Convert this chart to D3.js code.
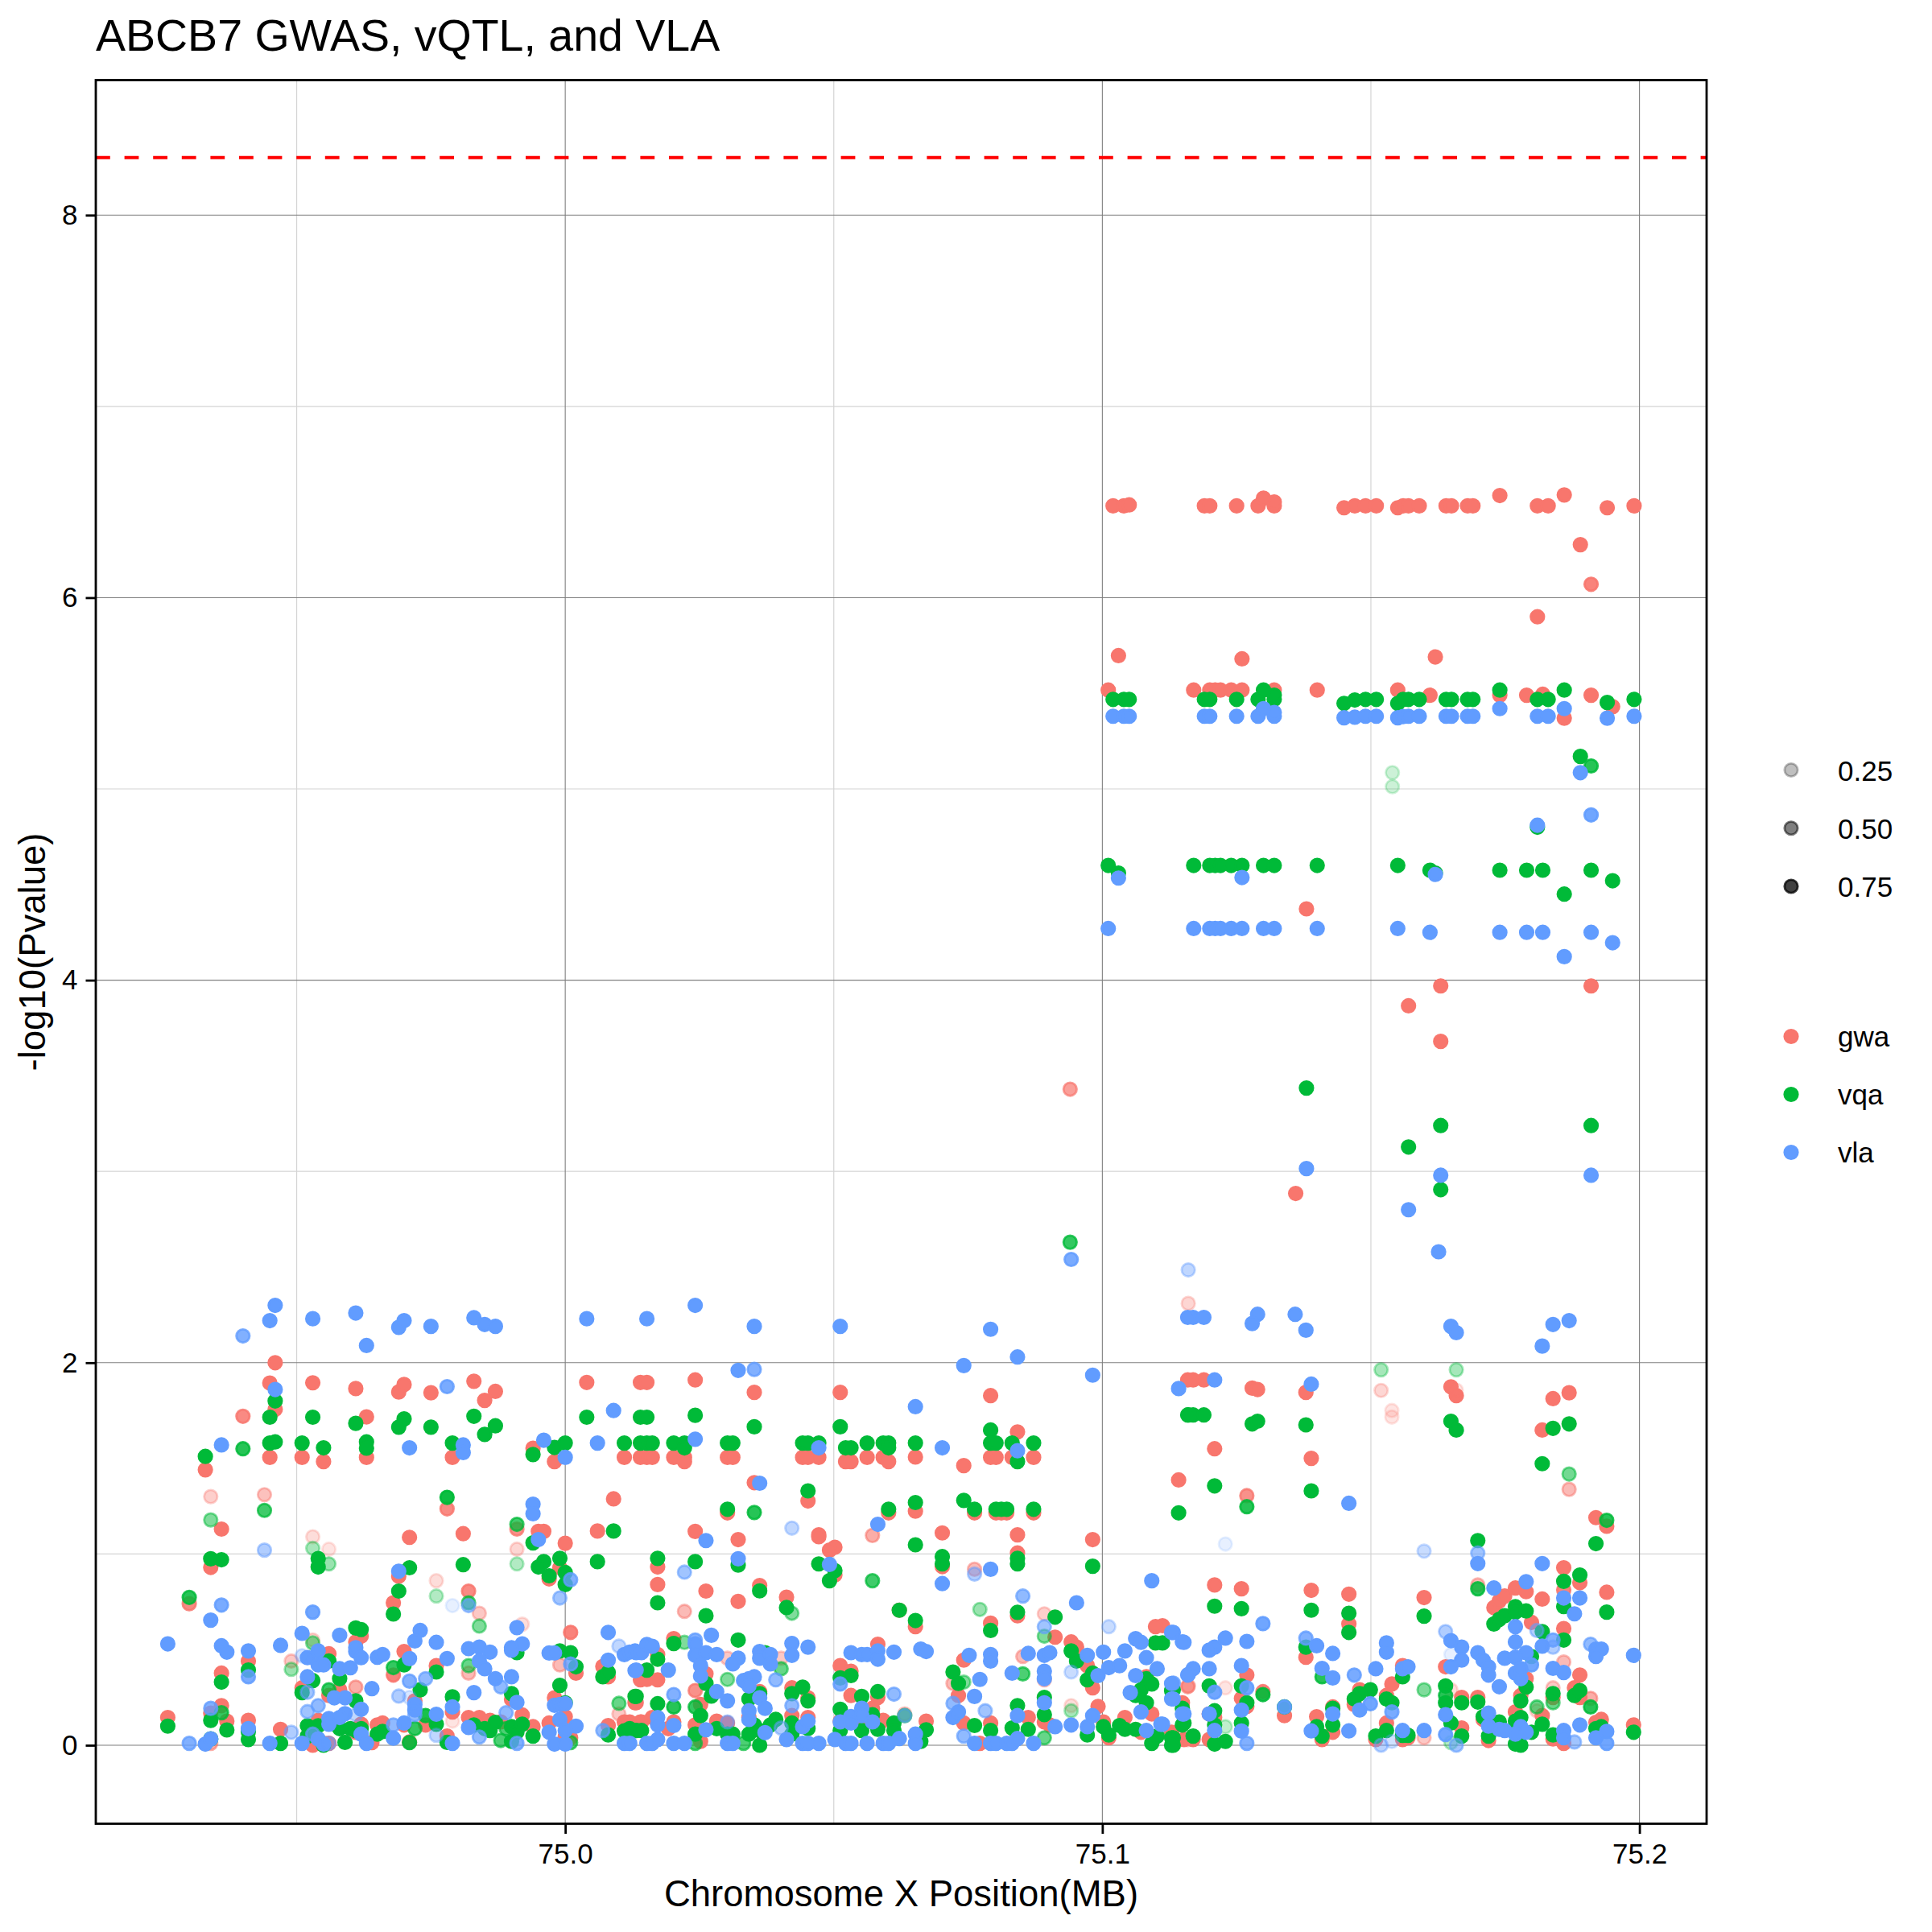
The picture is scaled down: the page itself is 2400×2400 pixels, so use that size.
<!DOCTYPE html>
<html><head><meta charset="utf-8">
<script src="https://cdn.jsdelivr.net/npm/d3@7/dist/d3.min.js"></script>
<style>html,body{margin:0;padding:0;background:#fff}svg{display:block}text{font-family:"Liberation Sans",Arial,sans-serif;fill:#000}</style>
</head><body><div id="chart"></div>
<script>
const titleText="ABCB7 GWAS, vQTL, and VLA";
const xLabel="Chromosome X Position(MB)";
const yLabel="-log10(Pvalue)";
const xMajor=[75.0,75.1,75.2], xMinor=[74.95,75.05,75.15];
const yMajor=[0,2,4,6,8], yMinor=[1,3,5,7];
const threshold=8.301;
const alphaLegend=[0.25,0.5,0.75];
const seriesNames=["gwa","vqa","vla"];
const seriesColors=["#F8766D","#00BA38","#619CFF"];

// [position in Mb, -log10 P, alpha (1 when omitted)]
const gwaPoints=[
[74.933,1.44],[74.940,1.72,.85],[74.945,1.894],[74.946,2.0],[74.946,1.756],[74.945,1.505],[74.951,1.505],[74.955,1.483],[74.953,1.895],[74.961,1.865],[74.963,1.717],[74.963,1.505],[74.969,1.847],[74.970,1.886],[74.975,1.843],[74.983,1.903],[74.985,1.803],[74.987,1.85],[74.979,1.505],[74.994,1.553],[74.998,1.483],[75.004,1.897],[75.011,1.505],[75.014,1.897],[75.014,1.505],
[74.934,1.30,.35],[74.944,1.31,.45],[74.978,1.236,.85],[74.936,1.13],[74.991,1.13,.8],[74.995,1.118],[74.996,1.118],[75.009,1.288],[75.006,1.12],[75.000,1.056],[74.934,.93],[74.953,1.09,.25],[74.956,1.025,.2],[74.971,1.087],[74.981,1.106],[74.991,1.025,.3],[74.999,.928],[74.997,.87],[74.969,.884],[74.976,.86,.25],[74.982,.806,.85],[74.930,.74,.85],[74.968,.745],[74.984,.69,.4],[74.992,.633,.25],[75.001,.59,.9],[74.953,.55,.3],[74.962,.57],[74.961,.54],[74.956,.478],[74.970,.49],[74.949,.44,.4],[74.941,.44],[74.936,.377],[74.982,.377,.5],[74.999,.42,.5],[75.002,.377],[74.968,.367,.9],[74.976,.416],[75.007,.412],[75.008,.358],[75.014,.342],[74.951,.30],[74.956,.26],[74.958,.29],[74.961,.304,.6],[74.972,.232],[74.990,.24],[74.979,.174],[74.998,.248],[75.000,.149],[75.013,.222],[75.010,.164,.4],[74.926,.145],[74.936,.207],[74.934,.168],[74.937,.126],[74.941,.13],[74.947,.083],[74.954,.13],[74.962,.11],[74.965,.106],[74.966,.116],[74.970,.106],[74.974,.106],[74.982,.145],[74.984,.145],[74.986,.13],[74.988,.122],[74.992,.158],[74.994,.097],[74.997,.116],[75.000,.044],[75.001,.039],[75.008,.103],[75.011,.122],[75.014,.122],[74.934,.01,.6],[74.953,0],[74.955,.01],[74.956,.01],[74.961,.068],[74.964,.014],[74.971,.017],[74.978,.048],[74.979,.126,.2],
[75.0152,1.897],[75.0242,1.91],[75.0352,1.845],[75.0512,1.845],[75.0792,1.828],[75.0842,1.638],[75.1142,1.387],[75.116,2.31,.3],[75.0152,1.505],[75.0162,1.505],[75.0202,1.505],[75.0222,1.505],[75.0222,1.483],[75.0302,1.505],[75.0312,1.505],[75.0352,1.373],[75.0442,1.505],[75.0452,1.505],[75.0472,1.505],[75.0522,1.483],[75.0532,1.483],[75.0562,1.505],[75.0592,1.505],[75.0602,1.483],[75.0652,1.507],[75.0742,1.462],[75.0792,1.505],[75.0802,1.505],[75.0832,1.505],[75.0872,1.505],[75.0452,1.277],[75.0302,1.215],[75.0602,1.215],[75.0652,1.224],[75.0762,1.215],[75.0802,1.215],[75.0812,1.215],[75.0822,1.215],[75.0872,1.215],[75.0242,1.118],[75.0322,1.075],[75.0472,1.10],[75.0472,1.09],[75.0502,1.035],[75.0492,1.02],[75.0572,1.097,.6],[75.0702,1.11],[75.0842,1.10],[75.0982,1.075],[75.0172,.932],[75.0172,.84],[75.0262,.806],[75.0322,.752],[75.0222,.70,.5],[75.0362,.835],[75.0412,.774],[75.0502,.89],[75.0702,.934],[75.0762,.92,.5],[75.0842,1.005],[75.0792,.638],[75.0892,.687,.35],[75.0912,.565],[75.0842,.677],[75.0652,.62],[75.0622,.706],[75.0582,.528],[75.0202,.557],[75.0172,.474],[75.0152,.344],[75.0132,.222],[75.0172,.342],[75.0262,.373],[75.0242,.286,.8],[75.0252,.213],[75.0302,.455,.4],[75.0362,.28],[75.0402,.455,.4],[75.0422,.3],[75.0452,.248],[75.0512,.416],[75.0532,.26],[75.0532,.387],[75.0572,.193],[75.0582,.25],[75.0632,.164,.4],[75.0672,.126],[75.0592,.13],[75.0732,.26],[75.0742,.445],[75.0722,.323,.5],[75.0852,.464,.5],[75.0892,.342,.5],[75.0942,.54],[75.0952,.513],[75.0972,.416],[75.0982,.30],[75.0992,.203],[75.0942,.207,.25],[75.1002,.122],[75.1012,.039],[75.1112,.625],[75.1042,.145],[75.1072,.068],[75.1082,.358],[75.1092,.164],[75.116,.31,.5],[75.0742,.116],[75.0792,.116],[75.0772,.01],[75.0862,.145],[75.0892,.122],[75.0902,.106],[75.1152,.03],[75.0120,.122],[75.0142,.122],[75.0162,.145],[75.0192,.087],[75.0202,.122],[75.0242,.106],[75.0252,.02],[75.0282,.126],[75.0302,.116],[75.0342,.145],[75.0352,.087],[75.0422,.155],[75.0452,.145],[75.0512,.126],[75.0552,.116],
[75.1169,1.91],[75.1189,1.91],[75.1159,1.91],[75.1279,1.867],[75.1289,1.86],[75.1379,1.845],[75.1389,1.5],[75.1209,1.55],[75.1269,1.305,.8],[75.1519,1.855,.3],[75.1539,1.75,.2],[75.1539,1.716,.2],[75.1649,1.874],[75.1659,1.828],[75.1659,1.857,.2],[75.1819,1.648],[75.1839,1.812],[75.1869,1.843],[75.1869,1.338,.5],[75.1919,1.19],[75.1939,1.145],[75.1699,.838,.5],[75.1209,.838],[75.1259,.818],[75.1389,.81],[75.1459,.79],[75.1459,.634],[75.1599,.772],[75.1729,.72],[75.1739,.754],[75.1749,.78],[75.1769,.822],[75.1789,.803],[75.1799,.642],[75.1819,.764],[75.1859,.928],[75.1859,.812,.9],[75.1889,.85],[75.1939,.8],[75.1859,.61],[75.1099,.62],[75.1379,.46],[75.1539,.32],[75.1559,.416],[75.1479,.29],[75.1469,.213],[75.1529,.26],[75.1529,.116],[75.1639,.41],[75.1649,.29,.25],[75.1669,.25],[75.1699,.25],[75.1709,.135],[75.1789,.348],[75.1779,.26],[75.1769,.174],[75.1809,.18,.3],[75.1819,.155],[75.1859,.435,.5],[75.1839,.3,.4],[75.1839,.25],[75.1879,.3],[75.1889,.25],[75.1889,.367],[75.1909,.245,.6],[75.1919,.12],[75.1929,.135],[75.1989,.106],[75.1159,.306,.6],[75.1149,.222],[75.1199,.164],[75.1209,.145],[75.1229,.3,.2],[75.1269,.367],[75.1259,.245],[75.1269,.203],[75.1299,.28,.9],[75.1339,.155],[75.1399,.149],[75.1429,.2],[75.1429,.068],[75.1409,.03],[75.1509,.03],[75.1559,.03],[75.1569,.039],[75.1599,.039,.4],[75.1669,.09],[75.1719,.025],[75.1839,.033],[75.1859,.01],[75.1129,.068],[75.1159,.03,.5],[75.1169,.03],[75.1199,.03],
[75.102,6.48],[75.104,6.48],[75.105,6.485],[75.119,6.48],[75.120,6.48],[75.125,6.48],[75.129,6.48],[75.132,6.48],[75.132,6.5],[75.145,6.47],[75.147,6.48],[75.149,6.48],[75.151,6.48],[75.155,6.47],[75.156,6.48],[75.157,6.48],[75.159,6.48],[75.164,6.48],[75.165,6.48],[75.168,6.48],[75.169,6.48],[75.181,6.48],[75.183,6.48],[75.194,6.47],[75.199,6.48],[75.130,6.52],[75.174,6.534],[75.186,6.537],[75.189,6.277],[75.191,6.07,.9],[75.181,5.90],[75.103,5.697],[75.126,5.68],[75.162,5.69],
[75.1011,5.517],[75.117,5.517],[75.120,5.517],[75.121,5.517],[75.122,5.517],[75.124,5.517],[75.126,5.517],[75.132,5.517],[75.140,5.517],[75.155,5.517],[75.161,5.49],[75.174,5.49],[75.179,5.49],[75.182,5.495],[75.191,5.49],[75.195,5.43],[75.186,5.37],[75.138,4.373],[75.157,3.866],[75.163,3.97],[75.191,3.97],[75.163,3.68],[75.136,2.885],[75.094,3.43,.7]
];
const vqaPoints=[
[74.933,1.51],[74.940,1.55,.85],[74.945,1.58],[74.946,1.586],[74.945,1.715],[74.946,1.80],[74.953,1.715],[74.951,1.58],[74.955,1.555],[74.961,1.683],[74.963,1.586],[74.963,1.553],[74.970,1.706],[74.969,1.663],[74.975,1.663],[74.983,1.72],[74.985,1.625],[74.987,1.67],[74.979,1.58],[74.994,1.52],[74.998,1.557],[75.000,1.58],[75.004,1.715],[75.011,1.58],[75.014,1.58],[75.014,1.715],
[74.934,1.178,.5],[74.944,1.228,.75],[74.978,1.296,.95],[74.991,1.155,.75],[74.994,1.058],[74.996,.96],[74.995,.932],[74.999,.977],[75.000,.903],[75.000,.84],[74.997,.886],[75.006,.96],[75.009,1.12],[74.934,.975],[74.936,.97],[74.953,1.03,.35],[74.954,.976],[74.954,.932],[74.956,.948,.4],[74.971,.928],[74.981,.944],[74.991,.948,.3],[74.969,.806],[74.968,.686],[74.976,.78,.3],[74.930,.773,.85],[74.982,.745,.7],[74.984,.623,.5],[74.961,.613],[74.962,.605],[74.953,.535,.5],[74.956,.44],[74.949,.397,.4],[74.941,.393],[74.936,.33],[74.953,.338],[74.956,.29,.8],[74.958,.348],[74.951,.275],[74.961,.232],[74.968,.406,.8],[74.970,.42],[74.973,.29],[74.976,.383],[74.982,.416,.6],[74.990,.27],[74.979,.253],[74.999,.313],[75.000,.222],[75.001,.484],[75.002,.41],[74.991,.484],[74.999,.493],[75.007,.358],[75.008,.381],[75.013,.255],[75.010,.219,.6],[74.926,.10],[74.934,.13],[74.936,.17,.8],[74.937,.08],[74.941,.03],[74.941,.072],[74.934,.033],[74.947,.01],[74.952,.102],[74.953,.083],[74.954,.102],[74.952,.048],[74.955,0],[74.958,.087],[74.959,.015],[74.960,.087],[74.961,.077],[74.962,.087],[74.965,.058],[74.966,.072],[74.971,.014,.9],[74.972,.087,.8],[74.974,.155,.9],[74.976,.11],[74.978,.015],[74.983,.106],[74.985,.087],[74.986,.077],[74.987,.12],[74.988,.025,.7],[74.989,.087,.7],[74.990,.097],[74.990,.02],[74.991,.068],[74.992,.11],[74.994,.048],[75.001,.014,.7],[75.008,.054],[75.011,.075],[75.013,.077],
[75.0152,1.715],[75.0152,1.58],[75.0162,1.58],[75.0202,1.58],[75.0222,1.58],[75.0222,1.555],[75.0242,1.725],[75.0352,1.665],[75.0302,1.58],[75.0312,1.58],[75.0452,1.33],[75.0302,1.234],[75.0352,1.217,.85],[75.0172,.977],[75.0242,.96],[75.0172,.745],[75.0262,.677],[75.0322,.942],[75.0362,.807],[75.0412,.72],[75.0422,.69,.5],[75.0472,.948],[75.0502,.913],[75.0492,.86],[75.0512,1.665],[75.0442,1.58],[75.0452,1.58],[75.0472,1.58],[75.0522,1.555],[75.0532,1.555],[75.0562,1.58],[75.0592,1.58],[75.0602,1.58],[75.0602,1.555],[75.0652,1.58],[75.0602,1.234],[75.0652,1.269],[75.0652,1.048],[75.0702,.986],[75.0702,.948],[75.0572,.86,.75],[75.0622,.706],[75.0652,.652],[75.0742,1.28],[75.0762,1.234],[75.0802,1.234],[75.0812,1.234],[75.0822,1.234],[75.0872,1.234],[75.0792,1.648],[75.0792,1.58],[75.0802,1.58],[75.0832,1.58],[75.0842,1.483],[75.0872,1.58],[75.0842,.977],[75.0842,.948],[75.0982,.936],[75.1142,1.215],[75.116,1.727],[75.0772,.71,.4],[75.0842,.695],[75.0912,.67],[75.0792,.60],[75.0892,.57,.5],[75.0202,.532],[75.0222,.538,.5],[75.0172,.45],[75.0152,.393],[75.0132,.255],[75.0172,.217],[75.0202,.2,.85],[75.0242,.2,.8],[75.0252,.155],[75.0262,.323],[75.0322,.55],[75.0372,.484],[75.0302,.344,.5],[75.0402,.4,.6],[75.0272,.257],[75.0342,.242],[75.0362,.27],[75.0422,.27],[75.0422,.116],[75.0442,.304],[75.0452,.232],[75.0512,.352],[75.0532,.364],[75.0552,.255],[75.0582,.28],[75.0512,.188],[75.0612,.116],[75.0612,.077],[75.0572,.16],[75.0552,.077],[75.0582,.083],[75.0672,.081],[75.0632,.155,.7],[75.0722,.383],[75.0732,.323],[75.0742,.33,.5],[75.0852,.373,.7],[75.0942,.493],[75.0952,.44],[75.0982,.377],[75.0972,.342],[75.0892,.25],[75.0892,.16],[75.0842,.207],[75.0832,.09],[75.0862,.083],[75.0762,.103],[75.0792,.077],[75.0942,.18,.35],[75.0892,.039,.6],[75.0972,.054],[75.1002,.097],[75.1012,.054],[75.1032,.103],[75.1042,.083],[75.1062,.083],[75.1092,.01],[75.1102,.048],[75.1132,.039],[75.1132,0],[75.1082,.348],[75.1092,.32],[75.1072,.29],[75.1062,.26],[75.1082,.222],[75.1112,.535],[75.1132,.29],[75.1152,.116],[75.0120,.087],[75.0132,.077],[75.0142,.077],[75.0242,.058],[75.0242,.01,.7],[75.0282,.087],[75.0302,.058],[75.0312,.058],[75.0342,.058],[75.0352,.106],[75.0362,.077],[75.0362,0],[75.0382,.106],[75.0392,.135],[75.0332,.01,.7],[75.0422,.058],[75.0452,.087],[75.0512,.077],[75.0662,.02],
[75.1169,1.727],[75.1189,1.727],[75.1159,1.727],[75.1279,1.68],[75.1289,1.694],[75.1379,1.675],[75.1389,1.33],[75.1209,1.356],[75.1269,1.247,.85],[75.1519,1.963,.35],[75.1659,1.963,.35],[75.1649,1.694],[75.1659,1.648],[75.1819,1.472],[75.1839,1.657],[75.1869,1.68],[75.1869,1.418,.55],[75.1939,1.176,.85],[75.1919,1.054],[75.1699,1.07],[75.1699,.818,.85],[75.1209,.727],[75.1259,.714],[75.1389,.706],[75.1459,.69],[75.1459,.59],[75.1599,.675],[75.1729,.634],[75.1739,.658],[75.1749,.677],[75.1769,.725],[75.1769,.696],[75.1789,.702],[75.1819,.594],[75.1859,.857],[75.1889,.89],[75.1859,.725],[75.1939,.696],[75.1859,.55],[75.1379,.513],[75.1099,.535],[75.1409,.358,.85],[75.1499,.29],[75.1479,.27],[75.1469,.242],[75.1529,.242],[75.1539,.222],[75.1559,.358],[75.1599,.29,.5],[75.1639,.31],[75.1639,.26,.85],[75.1639,.222],[75.1669,.222],[75.1699,.226],[75.1709,.149],[75.1779,.232],[75.1789,.304],[75.1799,.464],[75.1809,.2,.6],[75.1839,.27],[75.1839,.222,.6],[75.1879,.26],[75.1889,.286],[75.1909,.2,.85],[75.1129,.285],[75.1149,.193],[75.1199,.31],[75.1209,.18],[75.1259,.31],[75.1269,.222],[75.1299,.265,.9],[75.1339,.2],[75.1399,.097],[75.1409,.048],[75.1429,.193],[75.1429,.106],[75.1129,.039],[75.1129,0],[75.1169,.048],[75.1149,.106],[75.1209,.106],[75.1209,.006],[75.1229,.02],[75.1229,.097,.25],[75.1259,.116],[75.1509,.048],[75.1529,.077],[75.1559,.052],[75.1569,.052],[75.1649,.116],[75.1669,.048],[75.1649,.014,.3],[75.1719,.048],[75.1739,.122],[75.1769,.126],[75.1779,.145],[75.1769,.006],[75.1779,0],[75.1799,.068],[75.1819,.11],[75.1839,.054],[75.1919,.087],[75.1929,.097],[75.1989,.068],
[75.102,5.468],[75.104,5.468],[75.105,5.468],[75.119,5.468],[75.120,5.468],[75.125,5.468],[75.129,5.468],[75.132,5.468],[75.132,5.49],[75.130,5.517],[75.145,5.447],[75.147,5.465],[75.149,5.468],[75.151,5.468],[75.155,5.447],[75.156,5.468],[75.157,5.468],[75.159,5.468],[75.164,5.468],[75.165,5.468],[75.168,5.468],[75.169,5.468],[75.181,5.468],[75.183,5.468],[75.194,5.452],[75.199,5.468],[75.174,5.517],[75.186,5.517],
[75.1011,4.6],[75.117,4.6],[75.120,4.6],[75.121,4.6],[75.122,4.6],[75.124,4.6],[75.126,4.6],[75.130,4.6],[75.132,4.6],[75.140,4.6],[75.155,4.6],[75.103,4.56],[75.161,4.575],[75.162,4.56],[75.174,4.575],[75.179,4.575],[75.182,4.575],[75.191,4.575],[75.186,4.45],[75.195,4.52],[75.181,4.8],[75.189,5.17],[75.191,5.12,.85],[75.154,5.085,.2],[75.154,5.012,.2],[75.138,3.436],[75.163,3.24],[75.191,3.24],[75.157,3.128],[75.163,2.905],[75.094,2.63,.8]
];
const vlaPoints=[
[74.946,2.30],[74.945,2.22],[74.940,2.14,.8],[74.953,2.23],[74.961,2.26],[74.963,2.09],[74.969,2.185],[74.970,2.22],[74.975,2.19],[74.983,2.235],[74.985,2.20],[74.987,2.19],[75.004,2.23],[74.978,1.875,.85],[74.946,1.86],[75.009,1.75],[74.936,1.57],[74.971,1.555],[74.981,1.57],[74.981,1.53],[74.996,1.595],[75.000,1.505],[75.006,1.58],[74.994,1.26],[74.994,1.21],[74.944,1.02,.5],[74.995,1.075],[74.969,.91],[75.001,.865,.8],[74.999,.77,.6],[74.936,.733,.85],[74.934,.654],[74.953,.696,.9],[74.982,.73,.6],[74.979,.73,.15],[74.926,.53],[74.951,.585],[74.958,.575],[74.936,.52],[74.937,.487],[74.941,.493],[74.947,.522],[74.973,.60],[74.972,.545],[74.976,.538],[74.991,.615],[74.992,.53],[74.990,.51],[74.990,.497],[74.982,.505],[74.984,.513],[74.986,.487],[74.984,.44],[74.985,.40],[74.987,.348],[74.990,.358],[74.988,.305,.7],[74.978,.453],[74.971,.453],[74.961,.49],[74.961,.51],[74.962,.458],[74.965,.46],[74.966,.474],[74.954,.493],[74.952,.458],[74.951,.468,.3],[74.954,.42],[74.955,.42],[74.958,.40],[74.960,.405],[74.952,.358],[74.964,.296],[74.983,.275],[74.971,.335,.8],[74.974,.348,.7],[74.969,.257,.5],[74.971,.25,.25],[74.957,.248],[74.959,.248],[74.952,.277,.6],[74.952,.176,.6],[74.954,.207,.7],[74.962,.188],[74.959,.165],[74.958,.145],[74.956,.14],[74.956,.11],[74.961,.16,.4],[74.972,.213],[74.972,.184],[74.972,.16,.7],[74.976,.162],[74.979,.20],[74.991,.224],[74.989,.17,.7],[74.998,.209],[74.999,.213],[75.000,.217],[74.999,.135],[75.002,.10],[74.997,.068],[75.000,.077],[74.934,.193,.8],[74.941,.087],[74.941,.358,.85],[74.962,.058],[74.970,.116],[74.968,.106,.7],[74.968,.037],[74.982,.093],[74.984,.043,.7],[74.930,.01,.8],[74.933,.006],[74.934,.033],[74.945,.01],[74.951,.01],[74.953,.058,.7],[74.954,.033],[74.955,.006],[74.956,.01,.5],[74.963,.01],[74.979,.01],[74.976,.052,.4],[74.949,.068,.5],[74.991,.01,.8],[74.998,.006],[75.000,.006],[75.011,.01],[75.008,.59],[75.010,.518,.4],[75.011,.474],[75.013,.493],[75.008,.445],[75.013,.39],[75.007,.077,.7],[74.997,.482],[74.998,.482],[75.001,.425,.8],
[75.0152,2.23],[75.0242,2.30],[75.0352,2.19],[75.0512,2.19],[75.0322,1.96],[75.0352,1.965,.8],[75.0652,1.77],[75.0792,2.175],[75.0742,1.985],[75.0842,2.03],[75.0982,1.935],[75.1142,1.865],[75.0242,1.60],[75.0472,1.555],[75.0702,1.555],[75.0842,1.54],[75.0362,1.37],[75.0582,1.155],[75.0422,1.135,.4],[75.0262,1.07],[75.0492,.945],[75.0322,.975],[75.0222,.905,.6],[75.0702,.845],[75.0762,.895,.5],[75.0792,.92],[75.0852,.78,.7],[75.1092,.86],[75.0952,.745],[75.0892,.62,.6],[75.1012,.62,.35],[75.0942,2.54,.85],[75.116,2.485,.4],[75.0272,.575],[75.0120,.487],[75.0132,.484],[75.0142,.484],[75.0152,.527],[75.0162,.517],[75.0242,.55,.8],[75.0242,.53],[75.0242,.47],[75.0262,.484],[75.0282,.474],[75.0252,.416],[75.0322,.455],[75.0312,.425],[75.0362,.49],[75.0362,.455],[75.0382,.474],[75.0382,.425],[75.0422,.532],[75.0422,.47],[75.0452,.513],[75.0132,.393],[75.0192,.393],[75.0252,.362],[75.0332,.338],[75.0342,.348],[75.0352,.358],[75.0392,.342,.7],[75.0342,.31],[75.0282,.28],[75.0302,.232],[75.0202,.265,.8],[75.0362,.248],[75.0372,.193],[75.0422,.207,.7],[75.0172,.145],[75.0172,.106],[75.0202,.103],[75.0262,.081],[75.0302,.122,.5],[75.0342,.18],[75.0342,.135],[75.0372,.066],[75.0402,.09,.5],[75.0442,.097],[75.0452,.126],[75.0120,.01],[75.0152,.01],[75.0162,.01],[75.0172,.03],[75.0202,.01],[75.0222,.01],[75.0302,.01],[75.0312,.01],[75.0412,.03],[75.0442,.01],[75.0452,.01],[75.0472,.01],[75.0502,.03],[75.0522,.01],[75.0532,.01],[75.0562,.01],[75.0592,.01],[75.0602,.01],[75.0622,.035],[75.0652,.058],[75.0652,.01],[75.0532,.484],[75.0552,.474],[75.0562,.474],[75.0582,.493],[75.0582,.45],[75.0612,.487],[75.0662,.503],[75.0672,.49],[75.0512,.32,.85],[75.0612,.267,.7],[75.0532,.15],[75.0512,.122],[75.0532,.116],[75.0552,.193],[75.0552,.155],[75.0572,.122],[75.0632,.155,.5],[75.0752,.47],[75.0792,.474],[75.0792,.44],[75.0862,.48],[75.0832,.377],[75.0772,.344],[75.0762,.255],[75.0722,.219,.7],[75.0722,.145],[75.0732,.174],[75.0782,.18,.6],[75.0842,.155],[75.0742,.048,.7],[75.0762,.01],[75.0792,.01],[75.0802,.01],[75.0822,.01],[75.0832,.01],[75.0842,.035],[75.0872,.01],[75.0892,.47],[75.0902,.484],[75.0892,.387],[75.0892,.348],[75.0942,.383,.35],[75.0892,.222],[75.0912,.097],[75.0942,.106],[75.0972,.47],[75.1002,.487],[75.0992,.364],[75.1012,.406],[75.1032,.416],[75.1042,.493],[75.1062,.557],[75.1072,.538],[75.1082,.458],[75.1102,.40],[75.1062,.364],[75.1052,.275],[75.1072,.174],[75.1082,.077],[75.0972,.097],[75.0982,.155],[75.1112,.11],[75.1132,.59],[75.1152,.538],[75.1132,.325,.8],[75.1132,.242],[75.1152,.164],[75.116,.37],
[75.1169,2.237],[75.1189,2.237],[75.1159,2.237],[75.1289,2.253],[75.1279,2.205],[75.1359,2.253],[75.1379,2.17],[75.1209,1.91],[75.1389,1.888],[75.1626,2.58],[75.1649,2.19],[75.1659,2.157],[75.1819,2.087],[75.1839,2.2],[75.1869,2.22],[75.1459,1.265],[75.1229,1.052,.15],[75.1599,1.015,.35],[75.1699,1.005,.6],[75.1699,.95],[75.1819,.95],[75.1729,.822],[75.1789,.855],[75.1859,.77],[75.1889,.77],[75.1879,.687],[75.1769,.62],[75.1299,.636,.9],[75.1269,.543],[75.1229,.56],[75.1209,.513],[75.1199,.497],[75.1129,.59],[75.1149,.54],[75.1379,.56,.8],[75.1399,.52],[75.1429,.48],[75.1409,.402],[75.1429,.352],[75.1469,.367,.85],[75.1509,.40],[75.1529,.535],[75.1529,.487],[75.1559,.40],[75.1569,.41],[75.1539,.174,.85],[75.1499,.217,.9],[75.1479,.184],[75.1459,.075],[75.1389,.075],[75.1429,.164],[75.1339,.2,.9],[75.1269,.3,.9],[75.1259,.416],[75.1259,.184],[75.1259,.074],[75.1269,.01,.8],[75.1209,.277,.9],[75.1209,.077],[75.1199,.40],[75.1199,.164],[75.1169,.40],[75.1159,.367],[75.1149,.164],[75.1129,.323],[75.1129,.242],[75.1109,.11],[75.1649,.547],[75.1669,.513],[75.1669,.445],[75.1649,.41],[75.1639,.594,.5],[75.1649,.474,.15],[75.1559,.077],[75.1599,.077],[75.1519,0,.45],[75.1539,.02,.3],[75.1639,.16],[75.1639,.056,.9],[75.1659,0,.6],[75.1699,.484],[75.1709,.445],[75.1719,.41],[75.1719,.367],[75.1739,.306],[75.1789,.484],[75.1799,.42,.9],[75.1749,.455],[75.1769,.46],[75.1769,.54],[75.1769,.377],[75.1779,.348],[75.1779,.40],[75.1819,.518],[75.1809,.60,.5],[75.1839,.402],[75.1859,.38],[75.1839,.55,.8],[75.1839,.513,.5],[75.1909,.528,.7],[75.1919,.503],[75.1929,.503],[75.1919,.464],[75.1989,.47],[75.1719,.168],[75.1719,.10],[75.1739,.083],[75.1749,.077],[75.1779,.097],[75.1789,.068],[75.1769,.058],[75.1859,.077],[75.1859,.039],[75.1879,.017,.6],[75.1889,.106],[75.1919,.039],[75.1939,.072],[75.1939,.01,.9],
[75.102,5.38],[75.104,5.38],[75.105,5.38],[75.119,5.38],[75.120,5.38],[75.125,5.38],[75.129,5.38],[75.132,5.38],[75.132,5.4],[75.130,5.42],[75.145,5.372],[75.147,5.375],[75.149,5.38],[75.151,5.38],[75.155,5.372],[75.156,5.378],[75.157,5.38],[75.159,5.38],[75.164,5.38],[75.165,5.38],[75.168,5.38],[75.169,5.38],[75.181,5.38],[75.183,5.38],[75.194,5.37],[75.199,5.38],[75.174,5.42],[75.186,5.42],
[75.1011,4.27],[75.117,4.27],[75.120,4.27],[75.121,4.27],[75.122,4.27],[75.124,4.27],[75.126,4.27],[75.130,4.27],[75.132,4.27],[75.140,4.27],[75.155,4.27],[75.103,4.534],[75.126,4.537],[75.161,4.25],[75.162,4.553],[75.174,4.25],[75.179,4.25],[75.182,4.25],[75.191,4.25],[75.195,4.196],[75.186,4.123],[75.181,4.81],[75.189,5.085],[75.191,4.864,.9],[75.138,3.015],[75.163,2.98],[75.191,2.98],[75.157,2.8]
];
const seriesPoints=[gwaPoints,vqaPoints,vlaPoints];

const W=2400,H=2400;
const panel={left:119,right:2120,top:99.5,bottom:2265.5};
const x=d3.scaleLinear().domain([74.9126,75.2125]).range([panel.left,panel.right]);
const y=d3.scaleLinear().domain([-0.4104,8.706]).range([panel.bottom,panel.top]);
const svg=d3.select("#chart").append("svg").attr("width",W).attr("height",H);
svg.append("rect").attr("width",W).attr("height",H).attr("fill","#fff");

const grid=svg.append("g");
const minorCol="#d4d4d4",majorCol="#7f7f7f";
grid.selectAll(".xm").data(xMinor).join("line").attr("x1",d=>x(d)).attr("x2",d=>x(d)).attr("y1",panel.top).attr("y2",panel.bottom).attr("stroke",minorCol).attr("stroke-width",1.2);
grid.selectAll(".ym").data(yMinor).join("line").attr("y1",d=>y(d)).attr("y2",d=>y(d)).attr("x1",panel.left).attr("x2",panel.right).attr("stroke",minorCol).attr("stroke-width",1.2);
grid.selectAll(".xj").data(xMajor).join("line").attr("x1",d=>x(d)).attr("x2",d=>x(d)).attr("y1",panel.top).attr("y2",panel.bottom).attr("stroke",majorCol).attr("stroke-width",1.1);
grid.selectAll(".yj").data(yMajor).join("line").attr("y1",d=>y(d)).attr("y2",d=>y(d)).attr("x1",panel.left).attr("x2",panel.right).attr("stroke",majorCol).attr("stroke-width",1.1);

const R=8.2,SW=2.8;
seriesPoints.forEach((pts,i)=>{
  svg.append("g").selectAll("circle").data(pts).join("circle")
    .attr("cx",d=>x(d[0])).attr("cy",d=>y(d[1])).attr("r",R)
    .attr("fill",seriesColors[i]).attr("stroke",seriesColors[i]).attr("stroke-width",SW)
    .attr("fill-opacity",d=>d[2]===undefined?1:d[2]).attr("stroke-opacity",d=>d[2]===undefined?1:d[2]);
});

svg.append("line").attr("x1",panel.left).attr("x2",panel.right).attr("y1",y(threshold)).attr("y2",y(threshold))
  .attr("stroke","#ff0000").attr("stroke-width",4.2).attr("stroke-dasharray","17.8 17.8");

svg.append("rect").attr("x",panel.left).attr("y",panel.top).attr("width",panel.right-panel.left).attr("height",panel.bottom-panel.top)
  .attr("fill","none").attr("stroke","#000").attr("stroke-width",2.8);

const xAxis=d3.axisBottom(x).tickValues(xMajor).tickFormat(d3.format(".1f")).tickSize(12.5).tickPadding(12);
const yAxis=d3.axisLeft(y).tickValues(yMajor).tickFormat(d3.format("d")).tickSize(12.5).tickPadding(10);
const gx=svg.append("g").attr("transform",`translate(0,${panel.bottom})`).call(xAxis);
const gy=svg.append("g").attr("transform",`translate(${panel.left},0)`).call(yAxis);
[gx,gy].forEach(g=>{g.select(".domain").remove();g.selectAll("line").attr("stroke","#000").attr("stroke-width",2.8);
  g.selectAll("text").attr("font-size",35).attr("font-family",'"Liberation Sans"').attr("fill","#000");});

svg.append("text").attr("x",panel.left).attr("y",63).attr("font-size",55.5).text(titleText);
svg.append("text").attr("x",(panel.left+panel.right)/2).attr("y",2368).attr("text-anchor","middle").attr("font-size",45.5).text(xLabel);
svg.append("text").attr("transform",`translate(56,${(panel.top+panel.bottom)/2}) rotate(-90)`).attr("text-anchor","middle").attr("font-size",45.5).text(yLabel);

const legX=2225,legT=2283;
const legA=svg.append("g"), aY=d3.scalePoint().domain(alphaLegend).range([956.5,1101]);
legA.selectAll("circle").data(alphaLegend).join("circle").attr("cx",legX).attr("cy",d=>aY(d)).attr("r",R)
  .attr("fill","#000").attr("stroke","#000").attr("stroke-width",SW).attr("fill-opacity",d=>d).attr("stroke-opacity",d=>d);
legA.selectAll("text").data(alphaLegend).join("text").attr("x",legT).attr("y",d=>aY(d)+13).attr("font-size",35).text(d3.format(".2f"));
const legS=svg.append("g"), sY=d3.scalePoint().domain(seriesNames).range([1287.5,1431.5]);
legS.selectAll("circle").data(seriesNames).join("circle").attr("cx",legX).attr("cy",d=>sY(d)).attr("r",R)
  .attr("fill",(d,i)=>seriesColors[i]).attr("stroke",(d,i)=>seriesColors[i]).attr("stroke-width",SW);
legS.selectAll("text").data(seriesNames).join("text").attr("x",legT).attr("y",d=>sY(d)+12).attr("font-size",35).text(d=>d);
</script></body></html>
